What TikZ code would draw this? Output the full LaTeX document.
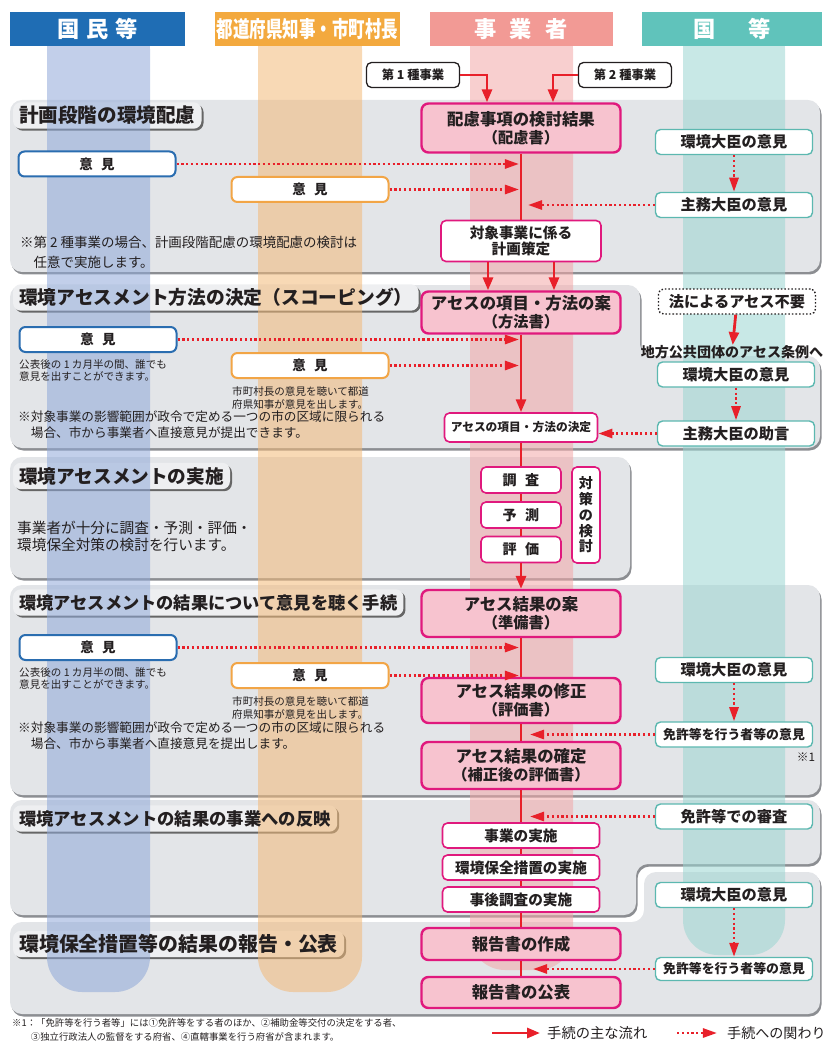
\documentclass[tikz,border=0pt]{standalone}
\usepackage{fontspec}
\setmainfont{Noto Sans CJK JP}
\usetikzlibrary{arrows.meta,positioning,shadows}
\pgfdeclarelayer{back}
\pgfdeclarelayer{lane}
\pgfsetlayers{back,lane,main}

\newlength\unitpx
\setlength\unitpx{0.3mm}

\definecolor{hdblue}{HTML}{1F6DB4}
\definecolor{hdorange}{HTML}{F3A93E}
\definecolor{hdpink}{HTML}{F29A95}
\definecolor{hdteal}{HTML}{60C3BB}
\definecolor{lnblue}{HTML}{8FA8D8}
\definecolor{lnorange}{HTML}{F2B978}
\definecolor{lnpink}{HTML}{F2A7A7}
\definecolor{lnteal}{HTML}{9BD5D1}
\definecolor{panelgray}{HTML}{E3E5E8}
\definecolor{tabgray}{HTML}{EEEFF1}
\definecolor{shadowgray}{HTML}{8C8E92}
\definecolor{magline}{HTML}{E0197D}
\definecolor{pinkfill}{HTML}{F7C3CF}
\definecolor{flowred}{HTML}{E8202A}
\definecolor{tealline}{HTML}{5CB8B0}
\definecolor{blueline}{HTML}{2A6DB0}
\definecolor{orangeline}{HTML}{F2A546}
\definecolor{ink}{HTML}{231F20}

\tikzset{
  hdbar/.style={fill=#1, text=white, minimum height=34\unitpx, inner sep=0pt,
    font=\bfseries\fontsize{19}{21}\selectfont},
  panel/.style={fill=panelgray, rounded corners=12\unitpx,
    drop shadow={shadow xshift=1.5\unitpx, shadow yshift=-2.5\unitpx, fill=shadowgray, opacity=1}},
  tabshape/.style={fill=tabgray, rounded corners=8\unitpx,
    drop shadow={shadow xshift=2\unitpx, shadow yshift=-2\unitpx, fill=black!60, opacity=1}},
  tabtitle/.style={anchor=west, inner xsep=6\unitpx, inner ysep=0pt, minimum height=26\unitpx,
    text=ink, font=\bfseries\fontsize{#1}{#1}\selectfont},
  mainbox/.style={draw=magline, line width=2.4\unitpx, fill=pinkfill, rounded corners=7\unitpx,
    minimum width=199\unitpx, align=center, inner sep=0pt, text=ink,
    font=\bfseries\fontsize{14}{15.5}\selectfont},
  subbox/.style={draw=magline, line width=1.6\unitpx, fill=white, rounded corners=5\unitpx,
    minimum width=157\unitpx, minimum height=25\unitpx, align=center, inner sep=0pt, text=ink,
    font=\bfseries\fontsize{12.5}{14}\selectfont},
  govbox/.style={draw=tealline, line width=1.4\unitpx, fill=white, rounded corners=5\unitpx,
    minimum width=157\unitpx, minimum height=25\unitpx, inner sep=0pt, text=ink,
    font=\bfseries\fontsize{13}{14}\selectfont},
  pubbox/.style={draw=blueline, line width=2\unitpx, fill=white, rounded corners=6\unitpx,
    minimum width=157\unitpx, minimum height=25\unitpx, inner sep=0pt, text=ink,
    font=\bfseries\fontsize{11.5}{13}\selectfont},
  prefbox/.style={pubbox, draw=orangeline},
  kindbox/.style={draw=ink, line width=1.3\unitpx, fill=white, rounded corners=5\unitpx,
    minimum width=93\unitpx, minimum height=25\unitpx, inner sep=0pt, text=ink,
    font=\bfseries\fontsize{10.5}{12}\selectfont},
  memo/.style n args={2}{anchor=north west, align=left, inner sep=0pt, text=ink,
    font=\fontsize{#1}{#2}\selectfont},
  mainline/.style={draw=flowred, line width=2.8\unitpx},
  flow/.style={mainline, -{Triangle[length=11pt, width=8.5pt]}},
  rel/.style={draw=flowred, line width=2.6\unitpx, dash pattern=on 1.9pt off 2.2pt,
    -{Triangle[length=12pt, width=7.7pt]}},
}

\begin{document}
\begin{tikzpicture}[x=0.3mm, y=-0.3mm]
\useasboundingbox (0,0) rectangle (825,1041);

\node[hdbar=hdblue, minimum width=175\unitpx] (hdA) at (97.5,29) {国\hspace{.3em}民\hspace{.3em}等};
\node[hdbar=hdorange, minimum width=185\unitpx] (hdB) at (307.5,29) {\scalebox{.74}[1]{都道府県知事・市町村長}};
\node[hdbar=hdpink, minimum width=183\unitpx] (hdC) at (521,29) {事\hspace{.6em}業\hspace{.6em}者};
\node[hdbar=hdteal, minimum width=180\unitpx] (hdD) at (732,29) {国\hspace{1.5em}等};

\node[kindbox] (kind1) at (413,75) {第 1 種事業};
\node[kindbox] (kind2) at (625,75) {第 2 種事業};

\node[tabtitle=16.7] (ttl1) at (13,115.5) {計画段階の環境配慮};
\node[mainbox, minimum height=49\unitpx] (hairyo) at (521,128) {配慮事項の検討結果\\{\fontsize{13}{14}\selectfont（配慮書）}};
\node[pubbox] (pub1) at (97,164) {意\hspace{.6em}見};
\node[prefbox] (pref1) at (310,189.5) {意\hspace{.6em}見};
\node[govbox] (env1) at (734,142) {環境大臣の意見};
\node[govbox] (min1) at (734,205) {主務大臣の意見};
\node[subbox, minimum width=160\unitpx, minimum height=41\unitpx] (plan) at (521,241) {対象事業に係る\\計画策定};
\node[memo={11.5}{17}] (note1) at (20,236) {※第 2 種事業の場合、計画段階配慮の環境配慮の検討は\\\hspace*{1em}任意で実施します。};

\node[tabtitle=16] (ttl2) at (13,297.5) {環境アセスメント方法の決定（スコーピング）};
\node[mainbox, minimum height=42\unitpx] (hoho) at (521,312.5) {アセスの項目・方法の案\\{\fontsize{13}{14}\selectfont（方法書）}};
\node[pubbox] (pub2) at (98,339.5) {意\hspace{.6em}見};
\node[memo={9}{11}] (pubnote2) at (19,359) {公表後の 1 カ月半の間、誰でも\\意見を出すことができます。};
\node[prefbox] (pref2) at (310,365.5) {意\hspace{.6em}見};
\node[memo={9}{11}] (prefnote2) at (232,386) {市町村長の意見を聴いて都道\\府県知事が意見を出します。};
\node[memo={10.8}{13.6}] (note2) at (18,411) {※対象事業の影響範囲が政令で定める一つの市の区域に限られる\\\hspace*{1em}場合、市から事業者へ直接意見が提出できます。};
\node[subbox, minimum width=153\unitpx, minimum height=29\unitpx, font=\bfseries\fontsize{10}{11}\selectfont] (kettei) at (521,427.5) {アセスの項目・方法の決定};
\node[govbox, draw=ink, dash pattern=on 1.3pt off 1.7pt] (fuyo) at (737,301.5) {法によるアセス不要};
\node[text=ink, inner sep=0pt, font=\bfseries\fontsize{12}{13}\selectfont] (jorei) at (732,352) {地方公共団体のアセス条例へ};
\node[govbox] (env2) at (736,374.5) {環境大臣の意見};
\node[govbox] (josi) at (736,433.5) {主務大臣の助言};

\node[tabtitle=15.9] (ttl3) at (13,476) {環境アセスメントの実施};
\node[subbox, minimum width=80\unitpx, minimum height=26\unitpx, font=\bfseries\fontsize{12}{13}\selectfont] (chosa) at (521,480) {調\hspace{.6em}査};
\node[subbox, minimum width=80\unitpx, minimum height=26\unitpx, font=\bfseries\fontsize{12}{13}\selectfont] (yosoku) at (521,515) {予\hspace{.6em}測};
\node[subbox, minimum width=80\unitpx, minimum height=26\unitpx, font=\bfseries\fontsize{12}{13}\selectfont] (hyoka) at (521,549.5) {評\hspace{.6em}価};
\node[subbox, minimum width=28\unitpx, minimum height=96\unitpx, font=\bfseries\fontsize{12}{13.5}\selectfont] (taisaku) at (586,515) {対\\策\\の\\検\\討};
\node[memo={12.5}{14.5}] (note3) at (17,521) {事業者が十分に調査・予測・評価・\\環境保全対策の検討を行います。};

\node[tabtitle=14.7] (ttl4) at (13,602.5) {環境アセスメントの結果について意見を聴く手続};
\node[mainbox, minimum height=47\unitpx] (junbi) at (521,613.5) {アセス結果の案\\{\fontsize{13}{14}\selectfont（準備書）}};
\node[pubbox] (pub4) at (98,647.5) {意\hspace{.6em}見};
\node[memo={9}{11}] (pubnote4) at (19,667) {公表後の 1 カ月半の間、誰でも\\意見を出すことができます。};
\node[prefbox] (pref4) at (310,675.5) {意\hspace{.6em}見};
\node[memo={9}{11}] (prefnote4) at (232,696) {市町村長の意見を聴いて都道\\府県知事が意見を出します。};
\node[memo={10.8}{13.6}] (note4) at (18,722) {※対象事業の影響範囲が政令で定める一つの市の区域に限られる\\\hspace*{1em}場合、市から事業者へ直接意見を提出します。};
\node[mainbox, minimum height=45\unitpx] (hyokasho) at (521,700.5) {アセス結果の修正\\{\fontsize{13}{14}\selectfont（評価書）}};
\node[govbox] (env4) at (734,670) {環境大臣の意見};
\node[govbox, font=\bfseries\fontsize{11}{12}\selectfont] (lic4) at (734,734.5) {免許等を行う者等の意見};
\node[mainbox, minimum height=47\unitpx] (kakutei) at (521,765.5) {アセス結果の確定\\{\fontsize{13}{14}\selectfont（補正後の評価書）}};
\node[text=ink, inner sep=0pt, font=\fontsize{10}{11}\selectfont] (mark1) at (806,757) {※1};

\node[tabtitle=14.8] (ttl5) at (13,818.5) {環境アセスメントの結果の事業への反映};
\node[govbox] (shinsa) at (734,816.5) {免許等での審査};
\node[subbox] (jisshi) at (521,835.5) {事業の実施};
\node[subbox] (hozen) at (521,867.5) {環境保全措置の実施};
\node[subbox] (jigo) at (521,899.5) {事後調査の実施};

\node[tabtitle=17] (ttl6) at (13,944) {環境保全措置等の結果の報告・公表};
\node[govbox] (env6) at (734,895) {環境大臣の意見};
\node[mainbox, minimum height=32\unitpx] (sakusei) at (521,944) {報告書の作成};
\node[govbox, minimum height=23\unitpx, font=\bfseries\fontsize{11}{12}\selectfont] (lic6) at (734,969) {免許等を行う者等の意見};
\node[mainbox, minimum height=31\unitpx] (kohyo) at (521,992.5) {報告書の公表};

\node[memo={8}{12.5}] (foot) at (12,1018) {※1：「免許等を行う者等」には①免許等をする者のほか、②補助金等交付の決定をする者、\\\hspace*{2em}③独立行政法人の監督をする府省、④直轄事業を行う府省が含まれます。};
\node[anchor=west, inner sep=0pt, text=ink, font=\fontsize{12.2}{13}\selectfont] (lgmain) at (547,1033) {手続の主な流れ};
\node[anchor=west, inner sep=0pt, text=ink, font=\fontsize{12}{13}\selectfont] (lgrel) at (727,1033) {手続への関わり};

\draw[flow] (kind1.east) -| ([xshift=-34\unitpx]hairyo.north);
\draw[flow] (kind2.west) -| ([xshift=32\unitpx]hairyo.north);
\draw[mainline] (hairyo) -- (plan);
\draw[rel, shorten >=2\unitpx] (pub1.east) -- (pub1.east -| hairyo.south);
\draw[rel, shorten >=2\unitpx] (pref1.east) -- (pref1.east -| hairyo.south);
\draw[rel] (env1) -- (min1);
\draw[rel, shorten >=7\unitpx] (min1.west) -- (min1.west -| hairyo.south);
\draw[flow] ([xshift=-33\unitpx]plan.south) -- ([xshift=-33\unitpx]plan.south |- hoho.north);
\draw[flow] ([xshift=33\unitpx]plan.south) -- ([xshift=33\unitpx]plan.south |- hoho.north);

\draw[flow] (hoho) -- (kettei);
\draw[rel, shorten >=2\unitpx] (pub2.east) -- (pub2.east -| hoho.south);
\draw[rel, shorten >=2\unitpx] (pref2.east) -- (pref2.east -| hoho.south);
\draw[flow] (fuyo) -- (jorei);
\draw[rel] (env2) -- (josi);
\draw[rel] (josi.west) -- (josi.west -| kettei.east);

\draw[mainline] (kettei) -- (chosa) -- (yosoku) -- (hyoka);
\draw[flow] (hyoka) -- (junbi);

\draw[mainline] (junbi) -- (hyokasho) -- (kakutei);
\draw[rel, shorten >=2\unitpx] (pub4.east) -- (pub4.east -| junbi.south);
\draw[rel, shorten >=2\unitpx] (pref4.east) -- (pref4.east -| junbi.south);
\draw[rel] (env4) -- (lic4);
\draw[rel, shorten >=9\unitpx] (lic4.west) -- (lic4.west -| junbi.south);

\draw[mainline] (kakutei) -- (jisshi) -- (hozen) -- (jigo) -- (sakusei) -- (kohyo);
\draw[rel, shorten >=9\unitpx] (shinsa.west) -- (shinsa.west -| jisshi.north);
\draw[rel] (env6) -- (lic6);
\draw[rel, shorten >=12\unitpx] (lic6.west) -- (lic6.west -| kohyo.north);

\draw[flow] ([xshift=-55\unitpx]lgmain.west) -- ([xshift=-7\unitpx]lgmain.west);
\draw[rel] ([xshift=-50\unitpx]lgrel.west) -- ([xshift=-10\unitpx]lgrel.west);

\begin{pgfonlayer}{back}
\path[panel] (10,100) rectangle (820,272);
\path[panel] (10,285) -- (640,285) -- (640,356) -- (820,356) -- (820,448) -- (10,448) -- cycle;
\path[panel] (10,457) rectangle (630,578);
\path[panel] (10,585) rectangle (820,795);
\path[panel] (10,800) -- (820,800) -- (820,864) -- (636,864) -- (636,915) -- (10,915) -- cycle;
\path[panel] (10,922) -- (644,922) -- (644,872) -- (820,872) -- (820,1014) -- (10,1014) -- cycle;
\foreach \t in {ttl1,ttl2,ttl3,ttl4,ttl5,ttl6}
  \path[tabshape] (\t.south west) rectangle (\t.north east);
\end{pgfonlayer}

\begin{pgfonlayer}{lane}
\foreach \xa/\xb/\yb/\c in {47/150/992/lnblue, 258/362/992/lnorange, 470/573/970/lnpink, 683/785/955/lnteal}
  \fill[\c, opacity=.55, rounded corners=35\unitpx] (\xa,14) rectangle (\xb,\yb);
\end{pgfonlayer}
\end{tikzpicture}
\end{document}
